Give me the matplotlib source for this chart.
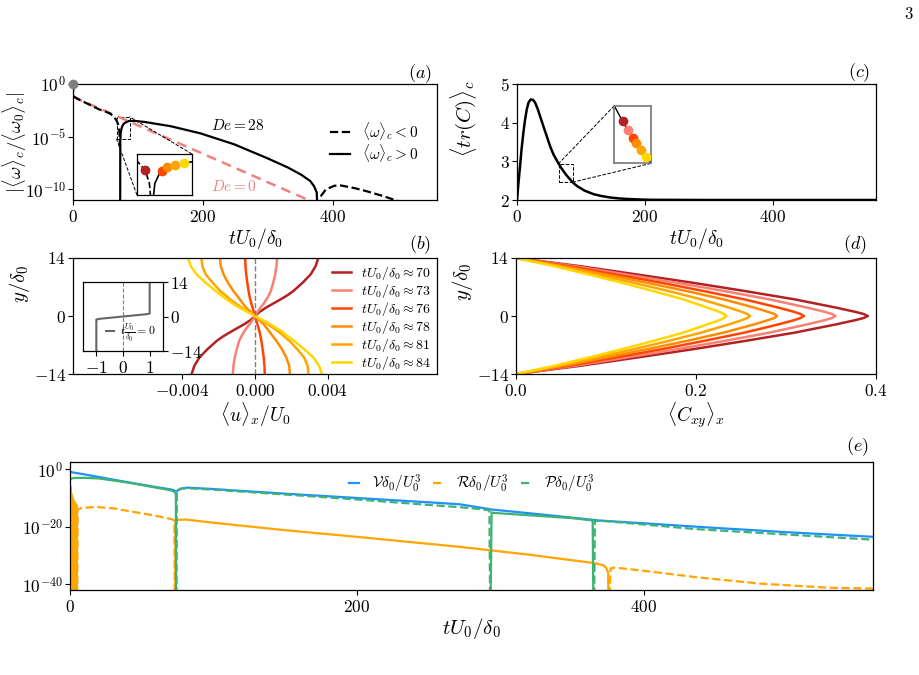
import numpy as np
import matplotlib
matplotlib.use("Agg")
import matplotlib.pyplot as plt
from mpl_toolkits.axes_grid1.inset_locator import mark_inset

plt.rcParams.update({
    "font.family": "cmr10",
    "mathtext.fontset": "cm",
    "axes.formatter.use_mathtext": True,
    "axes.unicode_minus": False,
    "font.size": 12,
    "xtick.labelsize": 12.5,
    "ytick.labelsize": 12.5,
    "axes.linewidth": 0.9,
    "xtick.major.size": 3.5,
    "ytick.major.size": 3.5,
    "ytick.major.pad": 1.5,
    "xtick.major.pad": 3.0,
})

# ---------------- data ----------------
# (a) vorticity, log10 of |<w>_c/<w0>_c|
t_start = [0.0]
w_start = [0.0]
t_neg1 = [0, 0.5, 2, 10, 20, 30, 40, 50, 57, 63, 67, 70, 71.5, 72.4]
w_neg1 = [0, -0.9, -1.22, -1.5, -1.8, -2.1, -2.4, -2.62, -2.8, -3.1, -3.45, -3.94, -4.6, -6.0]
t_pos = [72.6, 72.8, 73.5, 75, 76, 78, 81, 84, 87, 95, 110, 150, 196, 248, 299, 330, 351, 365, 371, 375, 377.5]
w_pos = [-14, -5.5, -4.6, -4.15, -3.99, -3.78, -3.65, -3.56, -3.5, -3.5, -3.6, -4.0, -4.68, -5.72, -7.04, -7.9, -8.6, -9.2, -9.7, -10.3, -14]
t_neg2 = [378.5, 381, 389, 402, 412, 433, 453, 479, 495, 505]
w_neg2 = [-14, -10.66, -10.0, -9.65, -9.62, -9.87, -10.19, -10.66, -11.0, -11.2]
t_De0 = [0, 361]
w_De0 = [-1.22, -10.97]

snap_t = [70, 73, 76, 78, 81, 84]
snap_w = [-3.94, -5.5, -3.99, -3.78, -3.65, -3.56]
snap_tr = [2.81, 2.74, 2.67, 2.63, 2.57, 2.515]
snap_colors = ["#b22222", "#fa8072", "#ff4500", "#ff8c00", "#ffa500", "#ffd700"]
snap_labels = [r"$tU_0/\delta_0\approx %d$" % v for v in snap_t]

# (c) trace of conformation tensor
t_tr = [0, 2, 4.7, 7, 9.9, 12.5, 15.2, 18, 21.4, 25, 28.2, 32, 36, 41, 46.5, 52, 57, 62, 65,
        70, 73, 76, 78, 81, 84, 87, 94, 106, 120, 133, 146, 160, 172, 190, 210, 300, 400, 562]
tr_C = [2.0, 2.4, 2.87, 3.3, 3.74, 4.07, 4.34, 4.52, 4.6, 4.59, 4.52, 4.37, 4.17, 3.92, 3.65, 3.38, 3.18, 3.03, 2.94,
        2.81, 2.74, 2.67, 2.63, 2.57, 2.515, 2.46, 2.36, 2.24, 2.15, 2.1, 2.065, 2.04, 2.028, 2.014, 2.005, 2.0, 2.0, 2.0]

# (b) velocity profiles
y_b = [-14, -12, -10, -8, -6, -5, -4, -3, -2, -1, 0, 1, 2, 3, 4, 5, 6, 8, 10, 12, 14]
u70 = [-0.00348, -0.00333, -0.00305, -0.00261, -0.0021, -0.00178, -0.0014, -0.001, -0.0006, -0.00025, 0,
       0.00025, 0.0006, 0.001, 0.0014, 0.00178, 0.0021, 0.00261, 0.00305, 0.00333, 0.00348]
u73 = [-0.00122, -0.00118, -0.00111, -0.001, -0.00087, -0.00076, -0.00063, -0.00048, -0.0003, -0.00014, 0,
       0.00014, 0.0003, 0.00048, 0.00063, 0.00076, 0.00087, 0.001, 0.00111, 0.00118, 0.00122]
u76 = [0.00054, 0.00052, 0.00048, 0.00042, 0.00035, 0.00031, 0.00026, 0.0002, 0.00013, 0.00007, 0,
       -0.00007, -0.00013, -0.0002, -0.00026, -0.00031, -0.00035, -0.00042, -0.00048, -0.00052, -0.00054]
u78 = [0.00192, 0.00188, 0.00172, 0.00148, 0.00118, 0.001, 0.00083, 0.00066, 0.00048, 0.00024, 0,
       -0.00024, -0.00048, -0.00066, -0.00083, -0.001, -0.00118, -0.00148, -0.00172, -0.00188, -0.00192]
u81 = [0.00294, 0.00289, 0.0027, 0.00232, 0.0019, 0.00162, 0.00136, 0.00105, 0.00072, 0.00036, 0,
       -0.00036, -0.00072, -0.00105, -0.00136, -0.00162, -0.0019, -0.00232, -0.0027, -0.00289, -0.00294]
u84 = [0.00368, 0.00352, 0.0032, 0.0027, 0.00215, 0.00185, 0.00155, 0.00122, 0.00085, 0.00042, 0,
       -0.00042, -0.00085, -0.00122, -0.00155, -0.00185, -0.00215, -0.0027, -0.0032, -0.00352, -0.00368]
y_init = [-14, -1.2, -0.9, 0.9, 1.2, 14]
u_init = [-1, -1, -0.85, 0.85, 1, 1]

# (d) shear stress profiles
y_d = [-14, -12, -10, -8, -6, -4, -2, -1, -0.5, 0, 0.5, 1, 2, 4, 6, 8, 10, 12, 14]
c70 = [0, .072, .135, .197, .255, .310, .356, .377, .386, .391, .386, .377, .356, .310, .255, .197, .135, .072, 0]
c73 = [0, .066, .123, .179, .232, .282, .324, .343, .351, .355, .351, .343, .324, .282, .232, .179, .123, .066, 0]
c76 = [0, .059, .111, .162, .209, .254, .292, .309, .316, .320, .316, .309, .292, .254, .209, .162, .111, .059, 0]
c78 = [0, .053, .100, .146, .190, .231, .265, .280, .287, .290, .287, .280, .265, .231, .190, .146, .100, .053, 0]
c81 = [0, .048, .090, .131, .170, .206, .237, .251, .257, .260, .257, .251, .237, .206, .170, .131, .090, .048, 0]
c84 = [0, .043, .081, .118, .153, .186, .213, .226, .231, .234, .231, .226, .213, .186, .153, .118, .081, .043, 0]

# (e) energy budget, log10 values
t_V = [0, 10, 20, 40, 60, 70, 72.5, 74, 75.5, 78, 82, 100, 150, 200, 250, 272, 294, 330, 365, 368, 400, 450, 500, 560]
V = [-0.94, -1.8, -2.7, -4.5, -6.2, -7.0, -7.3, -7.9, -7.2, -6.7, -6.4, -6.9, -8.5, -10.0, -11.5, -12.2, -14.0,
     -15.8, -17.6, -17.8, -18.8, -20.4, -21.9, -23.5]
t_P1 = [0, 1, 3, 10, 20, 40, 60, 70, 72.5, 73.8, 74.0]
P1 = [-3.6, -3.2, -3.05, -3.0, -3.2, -4.6, -6.4, -7.3, -7.7, -8.5, -48]
t_P2 = [74.2, 74.5, 76.6, 82, 100, 150, 200, 250, 272, 285, 292.5, 293]
P2 = [-48, -8.0, -6.8, -6.6, -7.1, -8.8, -10.5, -12.4, -13.2, -13.8, -14.3, -48]
t_P3 = [293.3, 294, 296, 320, 350, 364.5, 365]
P3 = [-48, -15.0, -15.2, -16.0, -17.0, -17.8, -48]
t_P4 = [365.5, 366, 370, 400, 436, 500, 560]
P4 = [-48, -18.0, -17.9, -19.2, -20.8, -22.7, -24.5]
t_R0 = [0, 0.3, 0.6, 0.9, 1.2, 1.5, 1.8, 2.1, 2.4, 2.7, 3.0, 3.3, 3.6, 3.9, 4.2, 4.5, 4.8]
R0 = [-48, -6.0, -48, -8.5, -48, -9.5, -48, -10.5, -48, -11, -48, -11.5, -48, -12, -48, -12.5, -48]
t_R1 = [5, 5.3, 8, 18, 30, 44, 60, 72, 72.8, 73.1]
R1 = [-48, -14.0, -13.5, -13.1, -13.6, -14.8, -16.2, -17.5, -18.5, -48]
t_R2 = [73.3, 73.6, 76, 81, 100, 150, 200, 272, 320, 365, 372, 374, 375.3, 375.5]
R2 = [-48, -17.7, -17.6, -17.5, -18.6, -21.2, -23.5, -27.0, -29.7, -32.6, -33.4, -34.3, -36, -48]
t_R3 = [376, 377, 380, 400, 436, 482, 529, 560]
R3 = [-48, -34.5, -34.2, -35.3, -37.5, -39.8, -41.2, -41.5]

c_V, c_R, c_P = "#1e90ff", "#ffa500", "#3cb371"


def p10(a):
    return np.power(10.0, np.asarray(a, dtype=float))


fig = plt.figure(figsize=(9.2, 6.75), dpi=100)
ax_a = fig.add_axes([0.0793, 0.7037, 0.3957, 0.1719])
ax_c = fig.add_axes([0.5620, 0.7037, 0.3902, 0.1719])
ax_b = fig.add_axes([0.0793, 0.4459, 0.3957, 0.1719])
ax_d = fig.add_axes([0.5609, 0.4459, 0.3913, 0.1719])
ax_e = fig.add_axes([0.0761, 0.1259, 0.8728, 0.1896])

# ---------------- (a) ----------------
ax_a.plot(t_De0, p10(w_De0), color="#f08080", ls=(0, (4, 2.5)), lw=1.8)
ax_a.plot(t_neg1, p10(w_neg1), "k--", lw=1.6, label=r"$\langle\omega\rangle_c<0$")
ax_a.plot(t_pos, p10(w_pos), "k-", lw=1.6, label=r"$\langle\omega\rangle_c>0$")
ax_a.plot(t_neg2, p10(w_neg2), "k--", lw=1.6)
ax_a.plot(t_start, p10(w_start), "o", color="gray", ms=6, clip_on=False, zorder=6)
ax_a.set_yscale("log")
ax_a.set_xlim(0, 560)
ax_a.set_ylim(1e-11, 1)
ax_a.set_yticks([1, 1e-5, 1e-10])
ax_a.minorticks_off()
ax_a.set_xticks([0, 200, 400])
ax_a.set_xlabel(r"$tU_0/\delta_0$", fontsize=14, labelpad=1)
ax_a.set_ylabel(r"$|\langle\omega\rangle_c/\langle\omega_0\rangle_c|$", fontsize=13.5)
ax_a.yaxis.set_label_coords(-0.122, 0.5)
ax_a.legend(loc="center right", frameon=False, fontsize=11, handlelength=1.3,
            borderaxespad=0.8, labelspacing=0.0)
ax_a.text(212, 10 ** -3.9, r"$De=28$", fontsize=11, va="center")
ax_a.text(212, 10 ** -9.72, r"$De=0$", fontsize=11, va="center", color="#f08080")

ax_ai = fig.add_axes([0.1489, 0.7111, 0.0598, 0.0607])
ax_ai.plot(t_neg1, p10(w_neg1), "k--", lw=1.2)
ax_ai.plot(t_pos, p10(w_pos), "k-", lw=1.2)
for tt, ww, cc in zip(snap_t, snap_w, snap_colors):
    ax_ai.plot([tt], p10([ww]), "o", color=cc, ms=6, zorder=5)
ax_ai.set_yscale("log")
ax_ai.set_xlim(67, 87)
ax_ai.set_ylim(10 ** -5.2, 10 ** -3.1)
ax_ai.set_xticks([])
ax_ai.set_yticks([])
ax_ai.minorticks_off()
mark_inset(ax_a, ax_ai, loc1=1, loc2=3, fc="none", ec="k", ls="--", lw=0.7)

# ---------------- (c) ----------------
ax_c.plot(t_tr, tr_C, "k-", lw=1.8)
ax_c.set_xlim(0, 562)
ax_c.set_ylim(2, 5)
ax_c.set_yticks([2, 3, 4, 5])
ax_c.set_xticks([0, 200, 400])
ax_c.set_xlabel(r"$tU_0/\delta_0$", fontsize=14, labelpad=1)
ax_c.set_ylabel(r"$\langle tr(C)\rangle_c$", fontsize=15)
ax_c.yaxis.set_label_coords(-0.105, 0.7)

ax_ci = fig.add_axes([0.6677, 0.758, 0.0399, 0.0853])
ax_ci.plot(t_tr, tr_C, "k-", lw=1.0)
for tt, vv, cc in zip(snap_t, snap_tr, snap_colors):
    ax_ci.plot([tt], [vv], "o", color=cc, ms=6, zorder=5)
ax_ci.set_xlim(65, 87)
ax_ci.set_ylim(2.46, 2.94)
ax_ci.set_xticks([])
ax_ci.set_yticks([])
for s in ax_ci.spines.values():
    s.set_color("#777777")
    s.set_linewidth(1.2)
mark_inset(ax_c, ax_ci, loc1=2, loc2=4, fc="none", ec="k", ls="--", lw=0.7)

# ---------------- (b) ----------------
for u, cc, lab in zip([u70, u73, u76, u78, u81, u84], snap_colors, snap_labels):
    ax_b.plot(u, y_b, color=cc, lw=1.8, label=lab)
ax_b.axvline(0, color="gray", ls="--", lw=1.0)
ax_b.set_xlim(-0.01, 0.01)
ax_b.set_ylim(-14, 14)
ax_b.set_xticks([-0.004, 0, 0.004], [r"$-0.004$", r"$0.000$", r"$0.004$"])
ax_b.set_yticks([-14, 0, 14], [r"$-14$", r"$0$", r"$14$"])
ax_b.set_xlabel(r"$\langle u\rangle_x/U_0$", fontsize=14, labelpad=1)
ax_b.set_ylabel(r"$y/\delta_0$", fontsize=15)
ax_b.yaxis.set_label_coords(-0.113, 0.78)
ax_b.legend(loc="upper right", frameon=False, fontsize=10, handlelength=1.4,
            labelspacing=0.0, borderaxespad=0.2, borderpad=0.2, handletextpad=0.7)

ax_bi = fig.add_axes([0.0902, 0.48, 0.087, 0.1022])
ax_bi.plot(u_init, y_init, color="#666666", lw=1.5, label=r"$t\frac{U_0}{\delta_0}=0$")
ax_bi.axvline(0, color="gray", ls="--", lw=0.8)
ax_bi.set_xlim(-1.5, 1.5)
ax_bi.set_ylim(-14, 14)
ax_bi.yaxis.tick_right()
ax_bi.set_yticks([-14, 0, 14], [r"$-14$", r"$0$", r"$14$"])
ax_bi.set_xticks([-1, 0, 1], [r"$-1$", r"$0$", r"$1$"])
ax_bi.tick_params(labelsize=12.5)
ax_bi.legend(loc="lower right", frameon=False, fontsize=8.5, handlelength=0.7,
             borderaxespad=0.2, handletextpad=0.5)

# ---------------- (d) ----------------
for cxy, cc in zip([c70, c73, c76, c78, c81, c84], snap_colors):
    ax_d.plot(cxy, y_d, color=cc, lw=1.8)
ax_d.set_xlim(0, 0.4)
ax_d.set_ylim(-14, 14)
ax_d.set_xticks([0, 0.2, 0.4], [r"$0.0$", r"$0.2$", r"$0.4$"])
ax_d.set_yticks([-14, 0, 14], [r"$-14$", r"$0$", r"$14$"])
ax_d.set_xlabel(r"$\langle C_{xy}\rangle_x$", fontsize=14, labelpad=1)
ax_d.set_ylabel(r"$y/\delta_0$", fontsize=15)
ax_d.yaxis.set_label_coords(-0.115, 0.8)

# ---------------- (e) ----------------
ax_e.plot(t_V, p10(V), color=c_V, lw=1.6, label=r"$\mathcal{V}\delta_0/U_0^3$")
ax_e.plot(t_R0, p10(R0), color=c_R, lw=1.6)
ax_e.plot(t_R1, p10(R1), color=c_R, lw=1.6, ls="--", label=r"$\mathcal{R}\delta_0/U_0^3$")
ax_e.plot(t_R2, p10(R2), color=c_R, lw=1.6)
ax_e.plot(t_R3, p10(R3), color=c_R, lw=1.6, ls="--")
ax_e.plot(t_P1, p10(P1), color=c_P, lw=1.6)
ax_e.plot(t_P2, p10(P2), color=c_P, lw=1.6, ls="--", label=r"$\mathcal{P}\delta_0/U_0^3$")
ax_e.plot(t_P3, p10(P3), color=c_P, lw=1.6)
ax_e.plot(t_P4, p10(P4), color=c_P, lw=1.6, ls="--")
ax_e.set_yscale("log")
ax_e.set_xlim(0, 560)
ax_e.set_ylim(1e-42, 10 ** 2.5)
ax_e.set_yticks([1, 1e-20, 1e-40])
ax_e.minorticks_off()
ax_e.set_xticks([0, 200, 400])
ax_e.set_xlabel(r"$tU_0/\delta_0$", fontsize=15, labelpad=1)
ax_e.legend(loc="upper center", ncol=3, frameon=False, fontsize=11, handlelength=0.7,
            columnspacing=0.8, borderaxespad=0.3)

# panel labels and page number
fig.text(0.4565, 0.891, r"$(a)$", fontsize=13, ha="center", va="center")
fig.text(0.934, 0.893, r"$(c)$", fontsize=13, ha="center", va="center")
fig.text(0.4565, 0.637, r"$(b)$", fontsize=13, ha="center", va="center")
fig.text(0.929, 0.637, r"$(d)$", fontsize=13, ha="center", va="center")
fig.text(0.9315, 0.338, r"$(e)$", fontsize=13, ha="center", va="center")
fig.text(0.987, 0.979, "3", fontsize=12, ha="center", va="center")

fig.savefig("out.png", dpi=100)
